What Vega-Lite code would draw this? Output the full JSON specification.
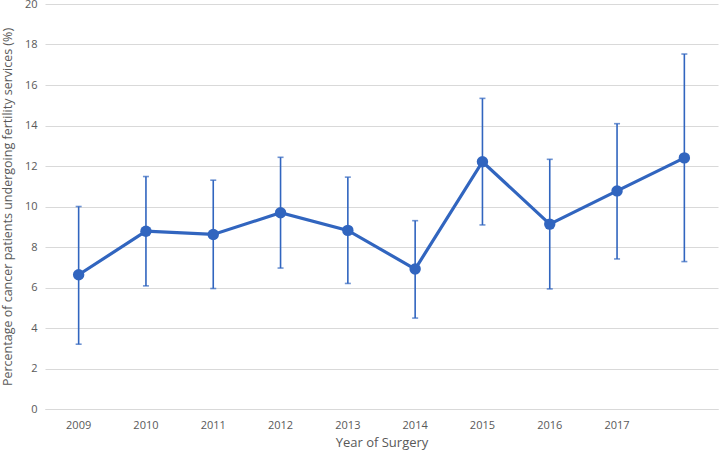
{
  "$schema": "https://vega.github.io/schema/vega-lite/v6.json",
  "width": 673,
  "height": 405,
  "autosize": {"type": "none"},
  "padding": {"left": 45, "top": 4, "right": 1, "bottom": 44},
  "background": "white",
  "config": {
    "view": {"stroke": null},
    "font": "Open Sans",
    "axis": {"labelFont": "Open Sans", "titleFont": "Open Sans", "labelColor": "#595959", "titleColor": "#595959", "titleFontWeight": "normal"}
  },
  "data": {
    "values": [
      {"year": "2009", "pct": 6.63, "lo": 3.2, "hi": 10.0},
      {"year": "2010", "pct": 8.78, "lo": 6.08, "hi": 11.48},
      {"year": "2011", "pct": 8.62, "lo": 5.95, "hi": 11.3},
      {"year": "2012", "pct": 9.69, "lo": 6.96, "hi": 12.43},
      {"year": "2013", "pct": 8.82, "lo": 6.2, "hi": 11.45},
      {"year": "2014", "pct": 6.91, "lo": 4.49, "hi": 9.3},
      {"year": "2015", "pct": 12.21, "lo": 9.09, "hi": 15.34},
      {"year": "2016", "pct": 9.13, "lo": 5.93, "hi": 12.33},
      {"year": "2017", "pct": 10.77, "lo": 7.41, "hi": 14.09},
      {"year": "2018", "pct": 12.4, "lo": 7.28, "hi": 17.53}
    ]
  },
  "encoding": {
    "x": {
      "field": "year", "type": "ordinal",
      "scale": {"type": "band", "paddingInner": 0, "paddingOuter": 0},
      "axis": {
        "title": "Year of Surgery", "labelAngle": 0, "ticks": false,
        "domain": true, "domainColor": "#d9d9d9", "domainWidth": 1,
        "labelFontSize": 11, "titleFontSize": 13, "labelPadding": 10, "titlePadding": 6,
        "labelExpr": "datum.value == '2018' ? '' : datum.value"
      }
    }
  },
  "layer": [
    {
      "mark": {"type": "rule", "color": "#3165bf", "strokeWidth": 1.6},
      "encoding": {
        "y": {"field": "lo", "type": "quantitative"},
        "y2": {"field": "hi"}
      }
    },
    {
      "mark": {"type": "tick", "color": "#3165bf", "size": 6, "thickness": 1.6, "orient": "horizontal"},
      "encoding": {"y": {"field": "lo", "type": "quantitative"}}
    },
    {
      "mark": {"type": "tick", "color": "#3165bf", "size": 6, "thickness": 1.6, "orient": "horizontal"},
      "encoding": {"y": {"field": "hi", "type": "quantitative"}}
    },
    {
      "mark": {"type": "line", "color": "#3165bf", "strokeWidth": 3.2},
      "encoding": {
        "y": {
          "field": "pct", "type": "quantitative",
          "scale": {"domain": [0, 20], "nice": false},
          "axis": {
            "title": "Percentage of cancer patients undergoing fertility services (%)",
            "values": [0, 2, 4, 6, 8, 10, 12, 14, 16, 18, 20],
            "domain": false, "ticks": false, "grid": true, "gridColor": "#d9d9d9", "gridWidth": 1,
            "labelFontSize": 11, "titleFontSize": 12.5, "labelPadding": 8, "titlePadding": 10
          }
        }
      }
    },
    {
      "mark": {"type": "point", "filled": true, "opacity": 1, "color": "#3165bf", "size": 130},
      "encoding": {"y": {"field": "pct", "type": "quantitative"}}
    }
  ]
}
